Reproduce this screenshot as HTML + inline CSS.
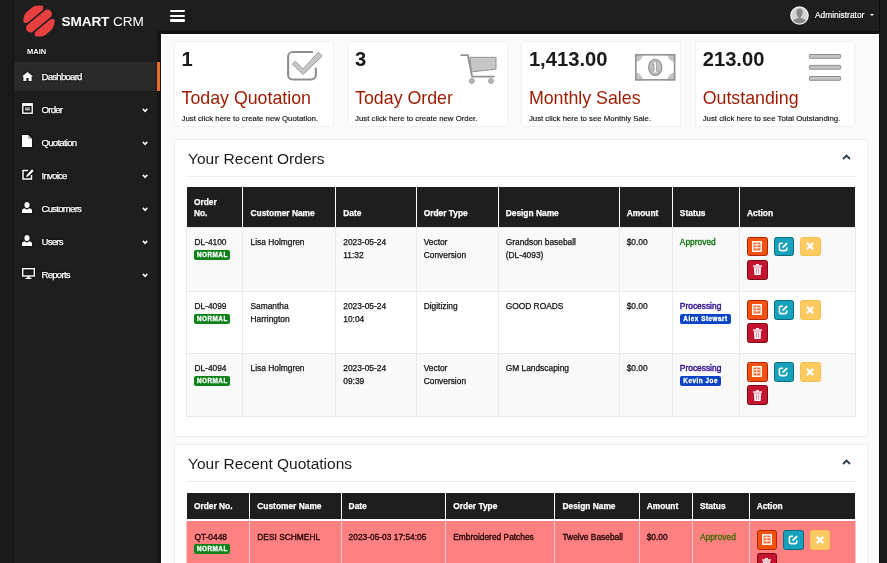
<!DOCTYPE html>
<html><head><meta charset="utf-8">
<style>
*{margin:0;padding:0;box-sizing:border-box}
html,body{-webkit-font-smoothing:antialiased;width:887px;height:563px;overflow:hidden;background:#1a1a1a;font-family:"Liberation Sans",Arial,sans-serif;position:relative}
.abs{position:absolute}
#side{position:absolute;left:14px;top:0;width:146px;height:563px;background:#1e1e1e}
#head{position:absolute;left:14px;top:0;width:865px;height:34px;background:#1e1e1e}
#content{position:absolute;left:161px;top:34px;width:718px;height:529px;background:#fafafa}
#rline{position:absolute;left:879px;top:0;width:1.2px;height:563px;background:#0c0c0c}
#lline{position:absolute;left:13px;top:0;width:1px;height:563px;background:#141414}
.logo-t{position:absolute;left:61.5px;top:13.7px;font-size:13.6px;color:#fff;white-space:nowrap;letter-spacing:-0.1px}
.main{position:absolute;left:27px;top:47px;font-size:7.5px;font-weight:bold;color:#fff;text-shadow:0 0 2px #000}
.nav{position:absolute;left:14px;width:142px;height:29px;color:#fff;font-size:9.6px;text-shadow:0 0 2px #000,0 0 2px #000}
.nav.act{background:#2a2a2a}
.nav .t{position:absolute;left:27.5px;top:9px;letter-spacing:-0.75px;white-space:nowrap;-webkit-text-stroke-width:0.25px}
.nav .ic{position:absolute;left:8px;top:8px}
.nav .chev{position:absolute;left:127.9px;top:12.6px;filter:drop-shadow(0 0 1.2px #000)}
.nav .ic{filter:drop-shadow(0 0 1.2px #000)}
.card{position:absolute;top:41.4px;width:160px;height:86px;background:#fff;border:1px solid #f1f1f1;border-radius:3px}
.card .num{position:absolute;left:6.5px;top:6.3px;font-size:20.2px;font-weight:bold;color:#1a1a1a;line-height:1}
.card .ttl{position:absolute;left:6.5px;top:47.9px;font-size:17.8px;color:#9c1a00;line-height:1;white-space:nowrap}
.card .sub{position:absolute;left:6.5px;top:72.5px;font-size:7.8px;color:#111;-webkit-text-stroke-width:0.15px;white-space:nowrap;line-height:1}
.card svg{position:absolute}
.panel{position:absolute;left:173.5px;width:694.7px;background:#fff;border:1px solid #eceff3}
.panel h3{position:absolute;left:13.5px;font-weight:normal;font-size:15.5px;color:#1a1a1a;line-height:1;white-space:nowrap}
.panel .sep{position:absolute;left:11px;right:11px;height:1px;background:#e9ecf1}
.panel .up{position:absolute;left:667px}
table{position:absolute;border-collapse:collapse;font-size:8.4px;color:#222;table-layout:fixed}
#t1 tr.h{height:40.5px}
#t2 tr.h{height:27.3px}
#t2 th{padding-bottom:6px}
tr.q td{background:#ff8080;border-color:#ffc8c8;border-top:2px solid #fff;color:#1a0000;padding-top:10px;-webkit-text-stroke-width:0.3px}
tr.q .lbl{margin-top:0}
tr.q td.act{padding-top:9.2px}
.appr2{color:#3a6a00}
th{background:#1e1e1e;color:#fff;text-align:left;font-weight:bold;vertical-align:bottom;border-left:1.7px solid #fff;padding:0 7px 6.9px;line-height:11.8px;-webkit-text-stroke-width:0.25px}
th:first-child{border-left:none}
td{vertical-align:top;border:1px solid #e6e9ee;padding:8px 7px 0;line-height:13px;color:#111;-webkit-text-stroke-width:0.25px}
tr.s td{background:#f9f9f9}
.lbl{display:inline-block;font-size:6.3px;font-weight:bold;color:#fff;border-radius:2px;padding:0 2px 0 2.5px;line-height:10px;height:10px;vertical-align:top;margin-top:1.3px;letter-spacing:0.55px;-webkit-text-stroke-width:0.3px}
.g{background:#0c8219}
.b{background:#0a44c4;padding:0 3px 0 3.5px!important}
.appr{color:#087008;-webkit-text-stroke-width:0.3px}
.proc{color:#2c0c92;-webkit-text-stroke-width:0.4px}
.btn{display:inline-flex;align-items:center;justify-content:center;width:20.5px;height:19.8px;border-radius:2.5px;margin-right:6px;position:relative;vertical-align:top}
td.act{padding-left:7px;padding-top:8.6px;line-height:0}
td.act br+.btn{margin-top:3.4px}
.bo{background:#f2520f;border:1.5px solid #b02200}
.bc{background:#16a2bb;border:1.5px solid #0b6c80}
.by{background:#fcca60;border:1px solid #f4c153}
.br{background:#c41530;border:1.5px solid #7c0616}
</style></head><body><div style="position:absolute;left:0;top:0;width:887px;height:563px;will-change:transform">
<div id="side"></div>
<div id="head"></div>
<div id="content"></div>
<div id="rline"></div><div id="lline"></div>
<div class="abs" style="left:157px;top:30.5px;width:4px;height:533px;background:#141414"></div>
<div class="abs" style="left:157px;top:30.5px;width:722px;height:3.5px;background:#121212"></div>
<div class="abs" style="left:161px;top:34px;width:718px;height:1.5px;background:#fefefe"></div>
<div class="abs" style="left:161px;top:34px;width:1.3px;height:529px;background:#fefefe"></div>

<!-- logo -->
<svg class="abs" style="left:23px;top:4.5px" width="32" height="32" viewBox="0 0 32 32">
  <defs><clipPath id="lc"><circle cx="16" cy="16" r="15.6"/></clipPath></defs>
  <g fill="#e8403f" transform="rotate(-40 16 16)" clip-path="url(#lc)">
    <rect x="3" y="1.2" width="26" height="8.8" rx="4.4"/>
    <rect x="0.4" y="11.6" width="31.2" height="8.8" rx="4.4"/>
    <rect x="3" y="22" width="26" height="8.8" rx="4.4"/>
  </g>
</svg>
<div class="logo-t"><b>SMART</b> CRM</div>
<div class="main">MAIN</div>

<!-- hamburger -->
<div class="abs" style="left:170px;top:10px;width:15px;height:2.3px;background:#fff;border-radius:1px"></div>
<div class="abs" style="left:170px;top:14.7px;width:15px;height:2.3px;background:#fff;border-radius:1px"></div>
<div class="abs" style="left:170px;top:19.4px;width:15px;height:2.3px;background:#fff;border-radius:1px"></div>

<!-- admin -->
<svg class="abs" style="left:790px;top:6.3px" width="19" height="19" viewBox="0 0 19 19">
  <circle cx="9.5" cy="9.5" r="9.3" fill="#f4f4f4"/>
  <clipPath id="ac"><circle cx="9.5" cy="9.5" r="8"/></clipPath>
  <g clip-path="url(#ac)"><rect x="0" y="0" width="19" height="19" fill="#d2d2d2"/>
  <path d="M9.5 2.6 C7.4 2.6 6.3 4.2 6.4 6.4 C6.5 8.4 7.3 10 8.2 10.8 L8.2 12 C6 12.6 3.5 13.4 2.5 15.2 L2.5 19 H16.5 L16.5 15.2 C15.5 13.4 13 12.6 10.8 12 L10.8 10.8 C11.7 10 12.5 8.4 12.6 6.4 C12.7 4.2 11.6 2.6 9.5 2.6Z" fill="#8a8a8a"/></g>
</svg>
<div class="abs" style="left:815px;top:10px;font-size:8.4px;color:#fff;white-space:nowrap;-webkit-text-stroke:0.2px #fff;text-shadow:0 0 2px #000">Administrator</div>
<div class="abs" style="left:870px;top:14px;width:0;height:0;border-left:2.5px solid transparent;border-right:2.5px solid transparent;border-top:2.5px solid #fff"></div>

<!-- nav -->
<div class="nav act" style="top:62px">
  <svg class="ic" width="11" height="9" viewBox="0 0 11 9" style="top:10px"><path d="M5.5 0 L11 4.6 L9.6 4.6 L9.6 9 L6.6 9 L6.6 6 L4.4 6 L4.4 9 L1.4 9 L1.4 4.6 L0 4.6Z" fill="#fff"/></svg>
  <span class="t">Dashboard</span>
</div>
<div style="position:absolute;left:157px;top:62px;width:3px;height:29px;background:#f0692d"></div>
<div class="nav" style="top:95px">
  <svg class="ic" width="11" height="11" viewBox="0 0 11 11" style="top:8px"><rect x="0.8" y="0.8" width="9.4" height="9.4" fill="none" stroke="#fff" stroke-width="1.4"/><rect x="0.8" y="0.8" width="9.4" height="2.2" fill="#fff"/><rect x="3" y="4.5" width="5" height="1" fill="#fff"/><rect x="3" y="6.3" width="5" height="1" fill="#fff"/></svg>
  <span class="t">Order</span>
  <svg class="chev" width="7" height="5" viewBox="0 0 7 5"><path d="M0.9 0.9 L3.1 3.3 L5.3 0.9" fill="none" stroke="#fff" stroke-width="1.6"/></svg>
</div>
<div class="nav" style="top:128px">
  <svg class="ic" width="10" height="12" viewBox="0 0 10 12" style="top:7px"><path d="M0 0 H6 L10 4 V12 H0Z" fill="#fff"/><path d="M6 0 V4 H10" fill="#bbb"/></svg>
  <span class="t">Quotation</span>
  <svg class="chev" width="7" height="5" viewBox="0 0 7 5"><path d="M0.9 0.9 L3.1 3.3 L5.3 0.9" fill="none" stroke="#fff" stroke-width="1.6"/></svg>
</div>
<div class="nav" style="top:161px">
  <svg class="ic" width="12" height="11" viewBox="0 0 12 11" style="top:8px"><path d="M6 1.5 H1 V10 H9.5 V6" fill="none" stroke="#fff" stroke-width="1.4"/><path d="M10 0.3 L11.7 2 L6.2 7.5 L4.2 8 L4.7 6Z" fill="#fff"/></svg>
  <span class="t">Invoice</span>
  <svg class="chev" width="7" height="5" viewBox="0 0 7 5"><path d="M0.9 0.9 L3.1 3.3 L5.3 0.9" fill="none" stroke="#fff" stroke-width="1.6"/></svg>
</div>
<div class="nav" style="top:194px">
  <svg class="ic" width="10" height="11" viewBox="0 0 10 11" style="top:8px"><ellipse cx="5" cy="3" rx="2.6" ry="3" fill="#fff"/><path d="M0 11 V8.5 Q0 6.5 2.5 6.3 L5 7.5 L7.5 6.3 Q10 6.5 10 8.5 V11Z" fill="#fff"/></svg>
  <span class="t">Customers</span>
  <svg class="chev" width="7" height="5" viewBox="0 0 7 5"><path d="M0.9 0.9 L3.1 3.3 L5.3 0.9" fill="none" stroke="#fff" stroke-width="1.6"/></svg>
</div>
<div class="nav" style="top:227px">
  <svg class="ic" width="10" height="11" viewBox="0 0 10 11" style="top:8px"><ellipse cx="5" cy="3" rx="2.6" ry="3" fill="#fff"/><path d="M0 11 V8.5 Q0 6.5 2.5 6.3 L5 7.5 L7.5 6.3 Q10 6.5 10 8.5 V11Z" fill="#fff"/></svg>
  <span class="t">Users</span>
  <svg class="chev" width="7" height="5" viewBox="0 0 7 5"><path d="M0.9 0.9 L3.1 3.3 L5.3 0.9" fill="none" stroke="#fff" stroke-width="1.6"/></svg>
</div>
<div class="nav" style="top:260px">
  <svg class="ic" width="13" height="11" viewBox="0 0 13 11" style="top:8px"><rect x="0.7" y="0.7" width="11.6" height="7.3" fill="none" stroke="#fff" stroke-width="1.4"/><rect x="5.5" y="8" width="2" height="2" fill="#fff"/><rect x="3.5" y="9.8" width="6" height="1.2" fill="#fff"/></svg>
  <span class="t">Reports</span>
  <svg class="chev" width="7" height="5" viewBox="0 0 7 5"><path d="M0.9 0.9 L3.1 3.3 L5.3 0.9" fill="none" stroke="#fff" stroke-width="1.6"/></svg>
</div>

<!-- stat cards -->
<div class="card" style="left:174px">
  <div class="num">1</div>
  <div class="ttl">Today Quotation</div>
  <div class="sub">Just click here to create new Quotation.</div>
</div>
<div class="card" style="left:347.6px">
  <div class="num">3</div>
  <div class="ttl">Today Order</div>
  <div class="sub">Just click here to create new Order.</div>
</div>
<div class="card" style="left:521.4px">
  <div class="num">1,413.00</div>
  <div class="ttl">Monthly Sales</div>
  <div class="sub">Just click here to see Monthly Sale.</div>
</div>
<div class="card" style="left:695.2px">
  <div class="num">213.00</div>
  <div class="ttl">Outstanding</div>
  <div class="sub">Just click here to see Total Outstanding.</div>
</div>


<!-- stat icons (page coords) -->
<svg class="abs" style="left:280px;top:45px" width="50" height="40" viewBox="280 45 50 40">
  <path d="M313 52.05 H292.6 A4.5 4.5 0 0 0 288.1 56.55 V74.95 A4.5 4.5 0 0 0 292.6 79.45 H311.35 A4.5 4.5 0 0 0 315.85 74.95 V67.7" fill="none" stroke="#8e8e8e" stroke-width="2.1"/>
  <polygon points="295.3,61.3 303.1,68.9 318.4,52.2 322.2,56.0 303.1,74.4 292.4,64.2" fill="#c6c6c6" stroke="#939393" stroke-width="0.9" stroke-linejoin="miter"/>
</svg>
<svg class="abs" style="left:455px;top:48px" width="50" height="40" viewBox="455 48 50 40">
  <path d="M461.2 55.1 H467.9 L472.1 76.6 H493.8" fill="none" stroke="#929292" stroke-width="1.9" stroke-linecap="round" stroke-linejoin="round"/>
  <path d="M469.8 57.3 H496 V69.1 L471.6 71.9Z" fill="#c6c6c6" stroke="#959595" stroke-width="1"/>
  <circle cx="471.8" cy="81" r="2.5" fill="#b8b8b8" stroke="#959595" stroke-width="0.8"/>
  <circle cx="490.9" cy="81" r="2.5" fill="#b8b8b8" stroke="#959595" stroke-width="0.8"/>
</svg>
<svg class="abs" style="left:630px;top:50px" width="50" height="35" viewBox="630 50 50 35">
  <defs><clipPath id="bill"><rect x="635" y="54" width="40.4" height="26.6"/></clipPath></defs>
  <rect x="635" y="54" width="40.4" height="26.6" fill="#fff"/>
  <g clip-path="url(#bill)" fill="#c4c4c4">
    <circle cx="635" cy="54" r="8"/><circle cx="675.4" cy="54" r="8"/>
    <circle cx="635" cy="80.6" r="8"/><circle cx="675.4" cy="80.6" r="8"/>
  </g>
  <rect x="635.8" y="54.8" width="38.8" height="25" fill="none" stroke="#969696" stroke-width="1.7"/>
  <ellipse cx="655.2" cy="67.4" rx="6.6" ry="8.2" fill="#c0c0c0" stroke="#939393" stroke-width="1.1"/>
  <path d="M653.2 62.6 L656.4 60.8 V71.2 H658.2 V73.1 H652.2 V71.2 H654 V64.3 L652.4 65Z" fill="#fff" stroke="#8e8e8e" stroke-width="0.7"/>
</svg>
<svg class="abs" style="left:800px;top:48px" width="50" height="40" viewBox="800 48 50 40">
  <rect x="809.4" y="54.5" width="31.2" height="3.8" rx="0.7" fill="#c4c4c4" stroke="#8e8e8e" stroke-width="1"/>
  <rect x="809.4" y="65.4" width="31.2" height="3.8" rx="0.7" fill="#c4c4c4" stroke="#8e8e8e" stroke-width="1"/>
  <rect x="809.4" y="76.5" width="31.2" height="3.8" rx="0.7" fill="#c4c4c4" stroke="#8e8e8e" stroke-width="1"/>
</svg>

<!-- Panel 1 -->
<div class="panel" style="top:139px;height:298px">
  <h3 style="top:11.3px">Your Recent Orders</h3>
  <svg class="up" style="top:14px" width="9" height="6" viewBox="0 0 9 6"><path d="M1 5 L4.5 1.5 L8 5" fill="none" stroke="#2c3e50" stroke-width="1.8"/></svg>
  <div class="sep" style="top:36px"></div>
</div>
<table id="t1" style="left:186.4px;top:187px;width:668.4px">
<colgroup><col style="width:56.1px"><col style="width:92.8px"><col style="width:80.4px"><col style="width:82px"><col style="width:121px"><col style="width:53.2px"><col style="width:67.2px"><col style="width:115.7px"></colgroup>
<tr class="h"><th>Order<br>No.</th><th>Customer Name</th><th>Date</th><th>Order Type</th><th>Design Name</th><th>Amount</th><th>Status</th><th>Action</th></tr>
<tr class="s" style="height:63.5px"><td>DL-4100<br><span class="lbl g">NORMAL</span></td><td>Lisa Holmgren</td><td>2023-05-24<br>11:32</td><td>Vector<br>Conversion</td><td>Grandson baseball<br>(DL-4093)</td><td>$0.00</td><td><span class="appr">Approved</span></td>
<td class="act"><span class="btn bo"><svg width="10" height="11" viewBox="0 0 10 11"><rect x="0.8" y="0.8" width="8.4" height="9.4" fill="#f36a36" stroke="#fff" stroke-width="1.5"/><rect x="2.2" y="3.3" width="5.6" height="1.1" fill="#fff"/><rect x="2.2" y="6.2" width="5.6" height="1.1" fill="#fff"/><rect x="4.2" y="2" width="1" height="6.5" fill="#fde4d8"/></svg></span><span class="btn bc"><svg width="11" height="11" viewBox="0 0 11 11"><path d="M5 2.2 H3 Q1.4 2.2 1.4 3.8 V8 Q1.4 9.6 3 9.6 H7.2 Q8.8 9.6 8.8 8 V6.5" fill="none" stroke="#fff" stroke-width="1.6"/><path d="M4.3 6.9 L4.6 5.2 L8.4 1.4 L9.8 2.8 L6 6.6Z" fill="#fff"/></svg></span><span class="btn by"><svg width="8" height="8" viewBox="0 0 8 8"><path d="M1.6 1.6 L6.4 6.4 M6.4 1.6 L1.6 6.4" stroke="#fff" stroke-width="2.2" stroke-linecap="square"/></svg></span><br><span class="btn br"><svg width="9" height="11" viewBox="0 0 9 11"><rect x="0" y="1.3" width="9" height="1.5" fill="#fff2f5"/><rect x="3" y="0" width="3" height="1.6" fill="#fff2f5"/><path d="M0.9 3.3 H8.1 L7.6 11 H1.4Z" fill="#fff2f5"/><rect x="3" y="4.4" width="0.8" height="5.3" fill="#e07a90"/><rect x="5.2" y="4.4" width="0.8" height="5.3" fill="#e07a90"/></svg></span></td></tr>
<tr style="height:62px"><td>DL-4099<br><span class="lbl g">NORMAL</span></td><td>Samantha<br>Harrington</td><td>2023-05-24<br>10:04</td><td>Digitizing</td><td>GOOD ROADS</td><td>$0.00</td><td><span class="proc">Processing</span><br><span class="lbl b">Alex Stewart</span></td>
<td class="act"><span class="btn bo"><svg width="10" height="11" viewBox="0 0 10 11"><rect x="0.8" y="0.8" width="8.4" height="9.4" fill="#f36a36" stroke="#fff" stroke-width="1.5"/><rect x="2.2" y="3.3" width="5.6" height="1.1" fill="#fff"/><rect x="2.2" y="6.2" width="5.6" height="1.1" fill="#fff"/><rect x="4.2" y="2" width="1" height="6.5" fill="#fde4d8"/></svg></span><span class="btn bc"><svg width="11" height="11" viewBox="0 0 11 11"><path d="M5 2.2 H3 Q1.4 2.2 1.4 3.8 V8 Q1.4 9.6 3 9.6 H7.2 Q8.8 9.6 8.8 8 V6.5" fill="none" stroke="#fff" stroke-width="1.6"/><path d="M4.3 6.9 L4.6 5.2 L8.4 1.4 L9.8 2.8 L6 6.6Z" fill="#fff"/></svg></span><span class="btn by"><svg width="8" height="8" viewBox="0 0 8 8"><path d="M1.6 1.6 L6.4 6.4 M6.4 1.6 L1.6 6.4" stroke="#fff" stroke-width="2.2" stroke-linecap="square"/></svg></span><br><span class="btn br"><svg width="9" height="11" viewBox="0 0 9 11"><rect x="0" y="1.3" width="9" height="1.5" fill="#fff2f5"/><rect x="3" y="0" width="3" height="1.6" fill="#fff2f5"/><path d="M0.9 3.3 H8.1 L7.6 11 H1.4Z" fill="#fff2f5"/><rect x="3" y="4.4" width="0.8" height="5.3" fill="#e07a90"/><rect x="5.2" y="4.4" width="0.8" height="5.3" fill="#e07a90"/></svg></span></td></tr>
<tr class="s" style="height:63px"><td>DL-4094<br><span class="lbl g">NORMAL</span></td><td>Lisa Holmgren</td><td>2023-05-24<br>09:39</td><td>Vector<br>Conversion</td><td>GM Landscaping</td><td>$0.00</td><td><span class="proc">Processing</span><br><span class="lbl b">Kevin Joe</span></td>
<td class="act"><span class="btn bo"><svg width="10" height="11" viewBox="0 0 10 11"><rect x="0.8" y="0.8" width="8.4" height="9.4" fill="#f36a36" stroke="#fff" stroke-width="1.5"/><rect x="2.2" y="3.3" width="5.6" height="1.1" fill="#fff"/><rect x="2.2" y="6.2" width="5.6" height="1.1" fill="#fff"/><rect x="4.2" y="2" width="1" height="6.5" fill="#fde4d8"/></svg></span><span class="btn bc"><svg width="11" height="11" viewBox="0 0 11 11"><path d="M5 2.2 H3 Q1.4 2.2 1.4 3.8 V8 Q1.4 9.6 3 9.6 H7.2 Q8.8 9.6 8.8 8 V6.5" fill="none" stroke="#fff" stroke-width="1.6"/><path d="M4.3 6.9 L4.6 5.2 L8.4 1.4 L9.8 2.8 L6 6.6Z" fill="#fff"/></svg></span><span class="btn by"><svg width="8" height="8" viewBox="0 0 8 8"><path d="M1.6 1.6 L6.4 6.4 M6.4 1.6 L1.6 6.4" stroke="#fff" stroke-width="2.2" stroke-linecap="square"/></svg></span><br><span class="btn br"><svg width="9" height="11" viewBox="0 0 9 11"><rect x="0" y="1.3" width="9" height="1.5" fill="#fff2f5"/><rect x="3" y="0" width="3" height="1.6" fill="#fff2f5"/><path d="M0.9 3.3 H8.1 L7.6 11 H1.4Z" fill="#fff2f5"/><rect x="3" y="4.4" width="0.8" height="5.3" fill="#e07a90"/><rect x="5.2" y="4.4" width="0.8" height="5.3" fill="#e07a90"/></svg></span></td></tr>
</table>

<!-- Panel 2 -->
<div class="panel" style="top:444px;height:130px">
  <h3 style="top:11.3px">Your Recent Quotations</h3>
  <svg class="up" style="top:14px" width="9" height="6" viewBox="0 0 9 6"><path d="M1 5 L4.5 1.5 L8 5" fill="none" stroke="#2c3e50" stroke-width="1.8"/></svg>
  <div class="sep" style="top:36px"></div>
</div>
<table id="t2" style="left:186.4px;top:492.5px;width:668.4px">
<colgroup><col style="width:62.9px"><col style="width:91.3px"><col style="width:104.7px"><col style="width:109.2px"><col style="width:84.2px"><col style="width:53.3px"><col style="width:56.7px"><col style="width:106.1px"></colgroup>
<tr class="h"><th>Order No.</th><th>Customer Name</th><th>Date</th><th>Order Type</th><th>Design Name</th><th>Amount</th><th>Status</th><th>Action</th></tr>
<tr class="q" style="height:70px"><td>QT-0448<br><span class="lbl g">NORMAL</span></td><td>DESI SCHMEHL</td><td>2023-05-03 17:54:05</td><td>Embroidered Patches</td><td>Twelve Baseball</td><td>$0.00</td><td><span class="appr2">Approved</span></td>
<td class="act"><span class="btn bo"><svg width="10" height="11" viewBox="0 0 10 11"><rect x="0.8" y="0.8" width="8.4" height="9.4" fill="#f36a36" stroke="#fff" stroke-width="1.5"/><rect x="2.2" y="3.3" width="5.6" height="1.1" fill="#fff"/><rect x="2.2" y="6.2" width="5.6" height="1.1" fill="#fff"/><rect x="4.2" y="2" width="1" height="6.5" fill="#fde4d8"/></svg></span><span class="btn bc"><svg width="11" height="11" viewBox="0 0 11 11"><path d="M5 2.2 H3 Q1.4 2.2 1.4 3.8 V8 Q1.4 9.6 3 9.6 H7.2 Q8.8 9.6 8.8 8 V6.5" fill="none" stroke="#fff" stroke-width="1.6"/><path d="M4.3 6.9 L4.6 5.2 L8.4 1.4 L9.8 2.8 L6 6.6Z" fill="#fff"/></svg></span><span class="btn by"><svg width="8" height="8" viewBox="0 0 8 8"><path d="M1.6 1.6 L6.4 6.4 M6.4 1.6 L1.6 6.4" stroke="#fff" stroke-width="2.2" stroke-linecap="square"/></svg></span><br><span class="btn br"><svg width="9" height="11" viewBox="0 0 9 11"><rect x="0" y="1.3" width="9" height="1.5" fill="#fff2f5"/><rect x="3" y="0" width="3" height="1.6" fill="#fff2f5"/><path d="M0.9 3.3 H8.1 L7.6 11 H1.4Z" fill="#fff2f5"/><rect x="3" y="4.4" width="0.8" height="5.3" fill="#e07a90"/><rect x="5.2" y="4.4" width="0.8" height="5.3" fill="#e07a90"/></svg></span></td></tr>
</table>
</div></body></html>
